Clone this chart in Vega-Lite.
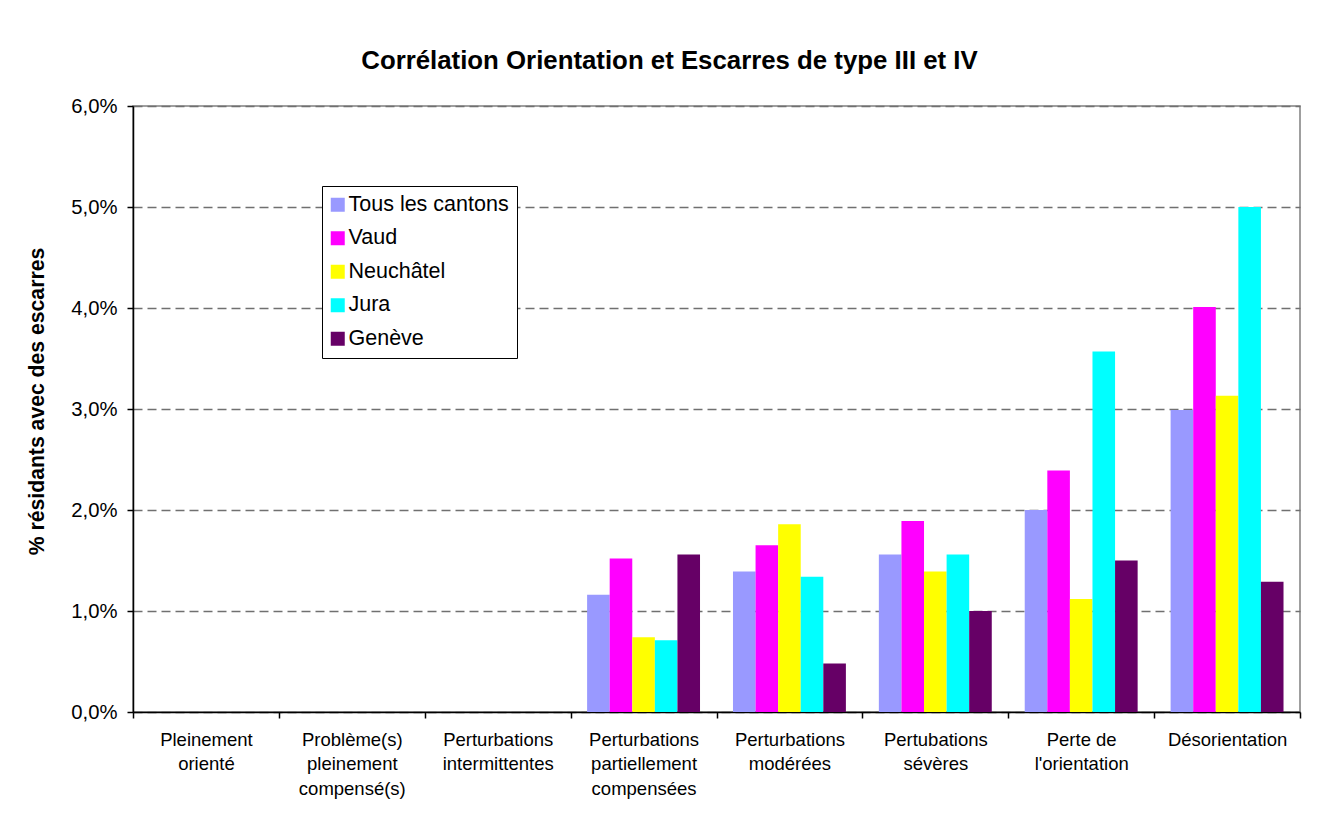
{
  "$schema": "https://vega.github.io/schema/vega-lite/v6.json",
  "autosize": {"type": "none"},
  "padding": {"left": 133, "top": 106, "right": 23, "bottom": 114},
  "width": 1167,
  "height": 606,
  "background": "white",
  "title": {
    "text": "Corrélation Orientation et Escarres de type III et IV",
    "font": "Liberation Sans",
    "fontSize": 25.8,
    "fontWeight": "bold",
    "color": "black",
    "anchor": "middle",
    "dx": -47,
    "offset": 21
  },
  "config": {
    "locale": {
      "number": {"decimal": ",", "thousands": "\u00a0", "grouping": [3], "currency": ["", " €"]}
    },
    "view": {"stroke": "#808080", "strokeWidth": 1.5},
    "font": "Liberation Sans"
  },
  "data": {
    "values": [
      {"category": "Pleinement orienté", "canton": "Tous les cantons", "value": 0},
      {"category": "Pleinement orienté", "canton": "Vaud", "value": 0},
      {"category": "Pleinement orienté", "canton": "Neuchâtel", "value": 0},
      {"category": "Pleinement orienté", "canton": "Jura", "value": 0},
      {"category": "Pleinement orienté", "canton": "Genève", "value": 0},
      {"category": "Problème(s) pleinement compensé(s)", "canton": "Tous les cantons", "value": 0},
      {"category": "Problème(s) pleinement compensé(s)", "canton": "Vaud", "value": 0},
      {"category": "Problème(s) pleinement compensé(s)", "canton": "Neuchâtel", "value": 0},
      {"category": "Problème(s) pleinement compensé(s)", "canton": "Jura", "value": 0},
      {"category": "Problème(s) pleinement compensé(s)", "canton": "Genève", "value": 0},
      {"category": "Perturbations intermittentes", "canton": "Tous les cantons", "value": 0},
      {"category": "Perturbations intermittentes", "canton": "Vaud", "value": 0},
      {"category": "Perturbations intermittentes", "canton": "Neuchâtel", "value": 0},
      {"category": "Perturbations intermittentes", "canton": "Jura", "value": 0},
      {"category": "Perturbations intermittentes", "canton": "Genève", "value": 0},
      {"category": "Perturbations partiellement compensées", "canton": "Tous les cantons", "value": 0.0116},
      {"category": "Perturbations partiellement compensées", "canton": "Vaud", "value": 0.0152},
      {"category": "Perturbations partiellement compensées", "canton": "Neuchâtel", "value": 0.0074},
      {"category": "Perturbations partiellement compensées", "canton": "Jura", "value": 0.0071},
      {"category": "Perturbations partiellement compensées", "canton": "Genève", "value": 0.0156},
      {"category": "Perturbations modérées", "canton": "Tous les cantons", "value": 0.0139},
      {"category": "Perturbations modérées", "canton": "Vaud", "value": 0.0165},
      {"category": "Perturbations modérées", "canton": "Neuchâtel", "value": 0.0186},
      {"category": "Perturbations modérées", "canton": "Jura", "value": 0.0134},
      {"category": "Perturbations modérées", "canton": "Genève", "value": 0.0048},
      {"category": "Pertubations sévères", "canton": "Tous les cantons", "value": 0.0156},
      {"category": "Pertubations sévères", "canton": "Vaud", "value": 0.0189},
      {"category": "Pertubations sévères", "canton": "Neuchâtel", "value": 0.0139},
      {"category": "Pertubations sévères", "canton": "Jura", "value": 0.0156},
      {"category": "Pertubations sévères", "canton": "Genève", "value": 0.0100},
      {"category": "Perte de l'orientation", "canton": "Tous les cantons", "value": 0.0200},
      {"category": "Perte de l'orientation", "canton": "Vaud", "value": 0.0239},
      {"category": "Perte de l'orientation", "canton": "Neuchâtel", "value": 0.0112},
      {"category": "Perte de l'orientation", "canton": "Jura", "value": 0.0357},
      {"category": "Perte de l'orientation", "canton": "Genève", "value": 0.0150},
      {"category": "Désorientation", "canton": "Tous les cantons", "value": 0.0299},
      {"category": "Désorientation", "canton": "Vaud", "value": 0.0401},
      {"category": "Désorientation", "canton": "Neuchâtel", "value": 0.0313},
      {"category": "Désorientation", "canton": "Jura", "value": 0.0500},
      {"category": "Désorientation", "canton": "Genève", "value": 0.0129}
    ]
  },
  "mark": {"type": "bar"},
  "encoding": {
    "x": {
      "field": "category",
      "type": "nominal",
      "sort": null,
      "scale": {"paddingInner": 0, "paddingOuter": 0},
      "axis": {
        "title": null,
        "labelAngle": 0,
        "labelFontSize": 18.5,
        "labelColor": "black",
        "labelLineHeight": 24.5,
        "labelBaseline": "top",
        "labelPadding": 12,
        "labelExpr": "!isValid(datum.value) ? '' : datum.value == \"Perte de l'orientation\" ? ['Perte de', \"l'orientation\"] : split(datum.value, ' ')",
        "labelLimit": 200,
        "tickBand": "extent",
        "tickSize": 6,
        "tickColor": "black",
        "tickWidth": 1.5,
        "domainColor": "black",
        "domainWidth": 1.5,
        "grid": false
      }
    },
    "xOffset": {
      "field": "canton",
      "type": "nominal",
      "sort": ["Tous les cantons", "Vaud", "Neuchâtel", "Jura", "Genève"],
      "scale": {"paddingInner": 0, "paddingOuter": 0.73}
    },
    "y": {
      "field": "value",
      "type": "quantitative",
      "scale": {"domain": [0, 0.06], "nice": false},
      "axis": {
        "title": "% résidants avec des escarres",
        "titleFontSize": 21.2,
        "titleFontWeight": "bold",
        "titleColor": "black",
        "titlePadding": 23,
        "titleY": 295,
        "values": [0, 0.01, 0.02, 0.03, 0.04, 0.05, 0.06],
        "format": ".1%",
        "labelFontSize": 20.3,
        "labelColor": "black",
        "labelPadding": 10,
        "tickSize": 6,
        "tickColor": "black",
        "tickWidth": 1.5,
        "domainColor": "black",
        "domainWidth": 1.5,
        "grid": true,
        "gridColor": "#707070",
        "gridDash": [9, 5],
        "gridWidth": 1.3
      }
    },
    "color": {
      "field": "canton",
      "type": "nominal",
      "scale": {
        "domain": ["Tous les cantons", "Vaud", "Neuchâtel", "Jura", "Genève"],
        "range": ["#9999FF", "#FF00FF", "#FFFF00", "#00FFFF", "#660066"]
      },
      "legend": {
        "title": null,
        "orient": "none",
        "legendX": 189,
        "legendY": 80,
        "fillColor": "white",
        "strokeColor": "black",
        "padding": 8,
        "symbolType": "square",
        "symbolSize": 196,
        "symbolStrokeWidth": 0,
        "symbolOffset": -3,
        "labelFontSize": 21.5,
        "labelColor": "black",
        "labelOffset": 0,
        "rowPadding": 10.5,
        "labelLimit": 300
      }
    }
  }
}
